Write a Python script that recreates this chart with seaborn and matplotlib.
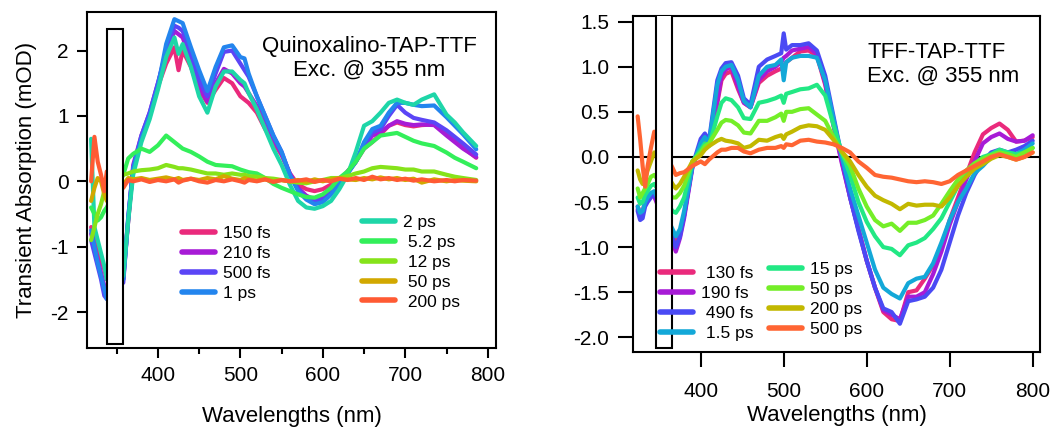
import numpy as np
import pandas as pd
import matplotlib
matplotlib.use("Agg")
import matplotlib.pyplot as plt
from matplotlib.lines import Line2D
from matplotlib.legend import Legend
from matplotlib.patches import Rectangle
import seaborn as sns

sns.set_style("ticks")
plt.rcParams.update({
    'font.family': ['Liberation Sans', 'DejaVu Sans'],
    'axes.unicode_minus': False,
    'text.color': 'black',
    'axes.labelcolor': 'black',
    'axes.linewidth': 1.5,
    'xtick.major.width': 1.5,
    'ytick.major.width': 1.5,
    'xtick.minor.width': 1.5,
    'xtick.color': 'black',
    'ytick.color': 'black',
    'axes.edgecolor': 'black',
})

# ---------------- Quinoxalino-TAP-TTF (left) ----------------
wl_left = [319, 323, 327, 331, 335, 338,
           358, 364, 370, 380, 390, 400, 410, 420, 425, 430, 440, 450, 460, 470,
           480, 490, 500, 505, 510, 520, 530, 540, 550, 560, 570, 580, 590, 600,
           610, 620, 630, 640, 650, 660, 670, 680, 690, 700, 710, 720, 735, 750,
           760, 770, 786]

qx_150fs = [-0.7, -0.9, -1.0, -1.2, -1.35, -1.5,
            -1.4, -0.6, 0.2, 0.65, 1.0, 1.45, 1.8, 2.05, 1.7, 2.0, 1.75, 1.4, 1.2, 1.4,
            1.58, 1.5, 1.3, 1.25, 1.2, 1.05, 0.8, 0.6, 0.4, 0.12, -0.05, -0.12, -0.15, -0.12,
            -0.05, 0.02, 0.15, 0.3, 0.5, 0.6, 0.72, 0.85, 0.9, 0.86, 0.84, 0.86, 0.87, 0.72,
            0.62, 0.52, 0.36]
qx_210fs = [-0.8, -1.0, -1.2, -1.4, -1.6, -1.7,
            -1.5, -0.6, 0.25, 0.7, 1.05, 1.5, 1.95, 2.3, 2.25, 2.2, 1.85, 1.45, 1.22, 1.5,
            1.72, 1.65, 1.5, 1.45, 1.35, 1.15, 0.9, 0.65, 0.42, 0.12, -0.1, -0.22, -0.28, -0.25,
            -0.15, -0.02, 0.15, 0.3, 0.52, 0.7, 0.75, 0.85, 0.92, 0.88, 0.86, 0.87, 0.86, 0.7,
            0.6, 0.5, 0.37]
qx_500fs = [-0.9, -1.1, -1.3, -1.5, -1.75, -1.8,
            -1.55, -0.55, 0.2, 0.7, 1.05, 1.5, 2.0, 2.38, 2.35, 2.3, 1.95, 1.55, 1.3, 1.65,
            1.98, 2.0, 1.8, 1.7, 1.6, 1.3, 1.0, 0.7, 0.45, 0.1, -0.12, -0.25, -0.3, -0.28,
            -0.18, -0.05, 0.12, 0.3, 0.55, 0.75, 0.8, 1.0, 1.17, 1.05, 0.97, 0.94, 0.9, 0.78,
            0.68, 0.58, 0.41]
qx_1ps = [-0.75, -1.0, -1.25, -1.45, -1.65, -1.8,
          -1.5, -0.55, 0.2, 0.65, 1.0, 1.45, 2.1, 2.48, 2.45, 2.42, 2.05, 1.7, 1.38, 1.75,
          2.05, 2.08, 1.9, 1.88, 1.65, 1.3, 1.0, 0.7, 0.45, 0.1, -0.15, -0.28, -0.35, -0.32,
          -0.2, -0.05, 0.12, 0.3, 0.6, 0.8, 0.85, 1.05, 1.2, 1.2, 1.17, 1.15, 1.16, 0.98,
          0.85, 0.72, 0.49]
qx_2ps = [0.65, -0.7, -0.9, -1.1, -1.3, -1.5,
          -1.45, -0.6, 0.1, 0.6, 0.95, 1.4, 1.9, 2.2, 1.95, 2.1, 1.75, 1.3, 1.05, 1.45,
          1.68, 1.68, 1.55, 1.5, 1.35, 1.1, 0.8, 0.5, 0.25, -0.05, -0.3, -0.4, -0.42, -0.38,
          -0.3, -0.12, 0.1, 0.45, 0.85, 0.92, 1.05, 1.2, 1.25, 1.2, 1.17, 1.25, 1.33, 1.02,
          0.9, 0.75, 0.54]
qx_5ps = [-0.4, -0.5, -0.6, -0.55, -0.45, -0.4,
          0.1, 0.35, 0.42, 0.5, 0.45, 0.55, 0.7, 0.6, 0.55, 0.5, 0.45, 0.38, 0.3, 0.25,
          0.24, 0.23, 0.18, 0.16, 0.14, 0.12, 0.05, -0.04, -0.1, -0.15, -0.2, -0.24, -0.25, -0.2,
          -0.1, 0.05, 0.15, 0.3, 0.5, 0.6, 0.7, 0.72, 0.74, 0.68, 0.62, 0.58, 0.54, 0.44,
          0.36, 0.3, 0.2]
qx_12ps = [-0.9, -0.7, -0.5, -0.35, -0.15, 0.0,
           0.1, 0.12, 0.15, 0.17, 0.18, 0.2, 0.25, 0.22, 0.2, 0.2, 0.18, 0.15, 0.12, 0.12,
           0.1, 0.12, 0.1, 0.1, 0.08, 0.07, 0.05, 0.04, 0.02, 0.0, -0.02, -0.03, 0.0, 0.02,
           0.05, 0.05, 0.08, 0.12, 0.15, 0.2, 0.22, 0.21, 0.2, 0.18, 0.18, 0.15, 0.15, 0.1,
           0.07, 0.05, 0.02]
qx_50ps = [-0.3, -0.1, 0.05, 0.0, -0.2, -0.3,
           -0.05, 0.05, 0.03, 0.05, 0.02, 0.04, 0.06, 0.03, 0.05, 0.02, 0.04, 0.02, 0.05, 0.03,
           0.08, 0.04, 0.02, 0.05, 0.03, 0.01, 0.03, 0.0, 0.02, 0.0, 0.02, -0.01, 0.03, 0.0,
           0.03, 0.05, 0.03, 0.02, 0.05, 0.03, 0.06, 0.03, 0.05, 0.02, 0.04, -0.02, 0.03, 0.0,
           0.02, 0.01, 0.0]
qx_200ps = [0.0, 0.68, 0.3, 0.1, -0.15, 0.15,
            -0.1, 0.02, 0.0, 0.03, -0.01, 0.02, 0.0, 0.03, -0.02, 0.01, 0.04, 0.0, -0.02, 0.02,
            0.0, 0.03, 0.0, -0.02, 0.02, 0.0, 0.03, -0.01, 0.02, 0.0, 0.01, 0.03, -0.01, 0.02,
            0.0, 0.04, 0.02, 0.05, 0.02, 0.07, 0.03, 0.05, 0.02, 0.04, 0.01, 0.03, 0.0, 0.02,
            0.0, 0.02, 0.01]

left_labels = ['150 fs', '210 fs', '500 fs', '1 ps', '2 ps', '5.2 ps', '12 ps', '50 ps', '200 ps']
left_series = [qx_150fs, qx_210fs, qx_500fs, qx_1ps, qx_2ps, qx_5ps, qx_12ps, qx_50ps, qx_200ps]
left_colors = ['#ea2a7c', '#a71bd6', '#5b45f6', '#2385ee', '#1ed6a8', '#33ef5a', '#86e31a', '#d2a800', '#ff5a33']

# ---------------- TFF-TAP-TTF (right) ----------------
wl_right = [324, 327, 330, 333, 336, 340, 344,
            366, 370, 375, 380, 390, 400, 405, 410, 420, 425, 430, 437, 445, 452,
            460, 470, 480, 490, 497, 500, 503, 510, 520, 530, 540, 550, 560, 570,
            580, 590, 600, 610, 620, 630, 640, 650, 660, 670, 680, 690, 700, 710,
            720, 730, 740, 750, 760, 770, 780, 790, 800]

tf_130fs = [-0.55, -0.62, -0.6, -0.5, -0.45, -0.4, -0.42,
            -0.85, -0.95, -0.85, -0.65, -0.1, 0.12, 0.2, 0.15, 0.6, 0.85, 0.92, 0.95, 0.75, 0.6,
            0.55, 0.82, 0.9, 0.95, 0.98, 1.0, 1.05, 1.1, 1.17, 1.18, 1.12, 0.8, 0.35, -0.05,
            -0.45, -0.8, -1.15, -1.45, -1.72, -1.8, -1.82, -1.5, -1.48, -1.35, -1.2, -1.0, -0.7, -0.45,
            -0.2, 0.05, 0.25, 0.32, 0.37, 0.3, 0.17, 0.18, 0.22]
tf_190fs = [-0.58, -0.65, -0.62, -0.52, -0.47, -0.42, -0.44,
            -0.95, -1.05, -0.9, -0.68, -0.12, 0.15, 0.22, 0.15, 0.62, 0.9, 0.97, 1.0, 0.78, 0.6,
            0.55, 0.85, 0.95, 1.0, 1.05, 1.1, 1.12, 1.18, 1.2, 1.22, 1.14, 0.82, 0.35, -0.07,
            -0.45, -0.8, -1.15, -1.45, -1.7, -1.75, -1.8, -1.55, -1.55, -1.5, -1.3, -1.05, -0.75, -0.5,
            -0.25, -0.05, 0.15, 0.22, 0.26, 0.2, 0.17, 0.18, 0.24]
tf_490fs = [-0.6, -0.7, -0.68, -0.55, -0.5, -0.45, -0.4,
            -0.9, -1.0, -0.88, -0.65, -0.1, 0.2, 0.26, 0.18, 0.85, 0.98, 1.04, 1.05, 0.9, 0.65,
            0.58, 1.0, 1.08, 1.12, 1.15, 1.37, 1.19, 1.24, 1.24, 1.26, 1.18, 0.9, 0.45, 0.0,
            -0.45, -0.82, -1.15, -1.45, -1.68, -1.72, -1.85, -1.6, -1.58, -1.55, -1.45, -1.25, -0.95, -0.65,
            -0.4, -0.2, -0.05, 0.05, 0.08, 0.05, 0.08, 0.12, 0.18]
tf_1p5ps = [-0.55, -0.62, -0.6, -0.5, -0.45, -0.4, -0.38,
            -0.8, -0.88, -0.8, -0.6, -0.1, 0.15, 0.22, 0.15, 0.8, 0.95, 1.0, 1.02, 0.85, 0.62,
            0.55, 0.9, 1.0, 1.02, 1.08, 0.85, 1.05, 1.1, 1.12, 1.12, 1.1, 0.85, 0.42, 0.0,
            -0.35, -0.65, -0.95, -1.25, -1.45, -1.52, -1.57, -1.4, -1.35, -1.33, -1.18, -0.95, -0.7, -0.5,
            -0.35, -0.18, -0.1, 0.0, 0.06, 0.05, 0.03, 0.08, 0.15]
tf_15ps = [-0.45, -0.52, -0.5, -0.42, -0.38, -0.32, -0.3,
           -0.6, -0.62, -0.55, -0.45, -0.05, 0.08, 0.15, 0.12, 0.45, 0.6, 0.65, 0.63, 0.55, 0.43,
           0.42, 0.6, 0.62, 0.65, 0.68, 0.6, 0.7, 0.72, 0.75, 0.76, 0.8, 0.68, 0.35, 0.05,
           -0.2, -0.5, -0.72, -0.88, -1.0, -1.02, -1.09, -0.98, -0.95, -0.9, -0.8, -0.68, -0.5, -0.32,
           -0.2, -0.08, 0.0, 0.03, 0.08, 0.05, 0.03, 0.05, 0.1]
tf_50ps = [-0.35, -0.45, -0.4, -0.35, -0.3, -0.22, -0.2,
           -0.45, -0.45, -0.4, -0.32, -0.05, 0.05, 0.12, 0.15, 0.3, 0.38, 0.41, 0.4, 0.35, 0.27,
           0.26, 0.4, 0.4, 0.44, 0.48, 0.4, 0.5, 0.5, 0.53, 0.54, 0.47, 0.4, 0.22, 0.05,
           -0.1, -0.35, -0.55, -0.7, -0.77, -0.74, -0.82, -0.73, -0.73, -0.7, -0.65, -0.52, -0.38, -0.25,
           -0.15, -0.07, -0.02, 0.02, 0.05, 0.03, 0.0, 0.05, 0.1]
tf_200ps = [-0.15, -0.25, -0.3, -0.25, -0.15, -0.05, 0.05,
            -0.3, -0.35, -0.3, -0.22, -0.05, 0.02, 0.08, 0.12, 0.18, 0.2, 0.18, 0.17, 0.15, 0.1,
            0.12, 0.19, 0.18, 0.22, 0.24, 0.2, 0.25, 0.28, 0.33, 0.35, 0.34, 0.3, 0.19, 0.06,
            -0.05, -0.2, -0.33, -0.43, -0.48, -0.52, -0.58, -0.52, -0.54, -0.53, -0.53, -0.55, -0.45, -0.32,
            -0.22, -0.13, -0.08, -0.02, 0.02, 0.0, -0.03, 0.0, 0.05]
tf_500ps = [0.45, 0.2, -0.1, -0.33, -0.1, 0.1, 0.28,
            -0.12, -0.2, -0.18, -0.17, -0.1, -0.05, -0.08, -0.03, 0.05, 0.08, 0.08, 0.1, 0.1, 0.06,
            0.04, 0.08, 0.1, 0.1, 0.12, 0.1, 0.14, 0.13, 0.18, 0.19, 0.17, 0.16, 0.14, 0.1,
            0.05, -0.05, -0.12, -0.2, -0.22, -0.23, -0.25, -0.27, -0.28, -0.27, -0.28, -0.3, -0.27, -0.2,
            -0.15, -0.1, -0.05, 0.0, 0.03, 0.0, -0.03, 0.0, 0.05]

right_labels = ['130 fs', '190 fs', '490 fs', '1.5 ps', '15 ps', '50 ps', '200 ps', '500 ps']
right_series = [tf_130fs, tf_190fs, tf_490fs, tf_1p5ps, tf_15ps, tf_50ps, tf_200ps, tf_500ps]
right_colors = ['#ea2a7c', '#a71bd6', '#4a4af4', '#13a8d8', '#22e884', '#74ee28', '#c2b800', '#ff6533']


def long_df(wl, labels, series):
    frames = [pd.DataFrame({'wl': wl, 'dA': s, 'delay': lab}) for lab, s in zip(labels, series)]
    return pd.concat(frames, ignore_index=True)


W, H = 1056, 430
fig = plt.figure(figsize=(W / 100, H / 100), dpi=100)
ax1 = fig.add_axes([87 / W, 1 - 348 / H, 409 / W, 336 / H])
ax2 = fig.add_axes([633 / W, 1 - 351.7 / H, 407 / W, 336 / H])

for ax, wl, labels, series, colors in [(ax1, wl_left, left_labels, left_series, left_colors),
                                        (ax2, wl_right, right_labels, right_series, right_colors)]:
    df = long_df(wl, labels, series)
    sns.lineplot(data=df, x='wl', y='dA', hue='delay', hue_order=labels,
                 palette=dict(zip(labels, colors)), estimator=None, sort=False,
                 lw=3, legend=False, ax=ax, zorder=3)
    for s in ax.spines.values():
        s.set_visible(True)
        s.set_linewidth(1.5)
    ax.set_ylabel('')
    ax.set_xticks([400, 500, 600, 700, 800])

# left axes
ax1.set_xlim(314, 810)
ax1.set_ylim(-2.55, 2.59)
ax1.set_yticks([-2, -1, 0, 1, 2])
ax1.set_xticks([350, 450, 550, 650, 750], minor=True)
ax1.tick_params(axis='both', which='major', length=7, width=1.5, labelsize=15, pad=6)
ax1.tick_params(axis='x', which='minor', length=4, width=1.5)
ax1.set_xlabel('Wavelengths (nm)', fontsize=16, labelpad=15)
ax1.set_ylabel('Transient Absorption (mOD)', fontsize=16, labelpad=10)
ax1.add_patch(Rectangle((338, -2.49), 19.6, 4.82, facecolor='white', edgecolor='black',
                        lw=1.5, zorder=5))
ax1.text(0.69, 0.862, 'Quinoxalino-TAP-TTF\nExc. @ 355 nm', transform=ax1.transAxes,
         ha='center', va='center', fontsize=16, linespacing=1.15)

# right axes
ax2.set_xlim(318.4, 808.8)
ax2.set_ylim(-2.16, 1.566)
ax2.set_yticks([-2.0, -1.5, -1.0, -0.5, 0.0, 0.5, 1.0, 1.5])
ax2.yaxis.set_major_formatter(matplotlib.ticker.FormatStrFormatter('%.1f'))
ax2.tick_params(axis='y', which='major', length=11, width=1.5, labelsize=15, pad=6)
ax2.tick_params(axis='x', which='major', length=11, width=1.5, labelsize=15, pad=11)
ax2.set_xlabel('Wavelengths (nm)', fontsize=16, labelpad=3)
ax2.axhline(0, color='black', lw=1.5, zorder=2)
ax2.add_patch(Rectangle((346.1, -2.12), 18.9, 3.8, facecolor='white', edgecolor='black',
                        lw=1.5, zorder=5))
ax2.text(0.575, 0.855, 'TFF-TAP-TTF\nExc. @ 355 nm', transform=ax2.transAxes,
         ha='left', va='center', fontsize=16, linespacing=1.15)


def add_legend(ax, labels, colors, x, y):
    handles = [Line2D([], [], color=c, lw=4) for c in colors]
    leg = Legend(ax, handles, labels, loc='upper left', bbox_to_anchor=(x / W, 1 - y / H),
                 bbox_transform=fig.transFigure, frameon=False, fontsize=12.5,
                 handlelength=1.9, handletextpad=0.45, labelspacing=0.27,
                 borderpad=0, borderaxespad=0)
    leg.set_zorder(6)
    ax.add_artist(leg)


add_legend(ax1, left_labels[:4], left_colors[:4], 182, 226)
add_legend(ax1, [left_labels[4]] + [' ' + l for l in left_labels[5:]], left_colors[4:], 362, 215)
add_legend(ax2, [' 130 fs', '190 fs', ' 490 fs', ' 1.5 ps'], right_colors[:4], 660, 266)
add_legend(ax2, right_labels[4:], right_colors[4:], 769, 262)

fig.savefig('out.png', dpi=100)
